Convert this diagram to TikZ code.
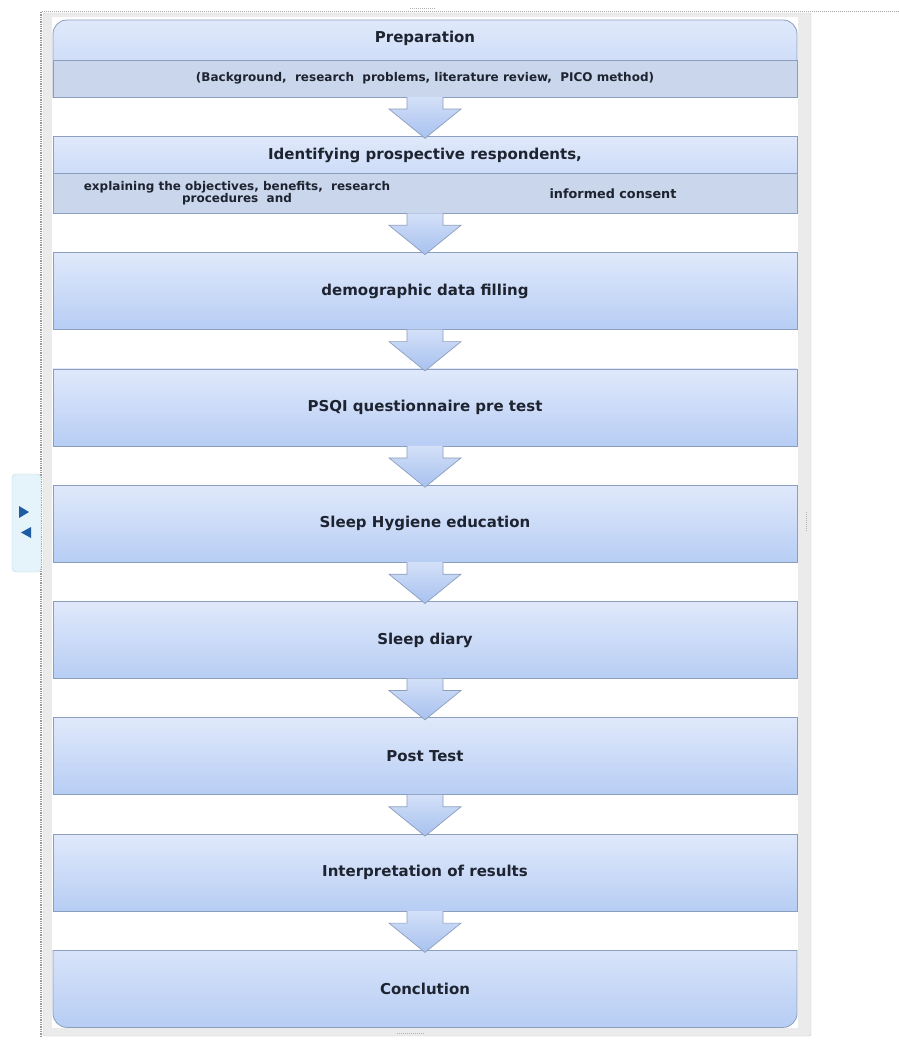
\documentclass[tikz,border=0pt]{standalone}
\usepackage{fontspec}
\setmainfont{DejaVu Sans}
\usetikzlibrary{positioning,calc}
\definecolor{ink}{HTML}{1E2330}
\definecolor{edge}{HTML}{8C9EBD}
\definecolor{boxtop}{HTML}{E0E9FB}
\definecolor{boxbot}{HTML}{B7CDF4}
\definecolor{bandc}{HTML}{C9D6EC}
\definecolor{arrtop}{HTML}{D3E0F8}
\definecolor{arrbot}{HTML}{A7C1EF}
\definecolor{frame}{HTML}{EBEBEB}
\definecolor{frameln}{HTML}{CCCCCC}
\definecolor{tabfill}{HTML}{E5F4FA}
\definecolor{tabln}{HTML}{BCD6E0}
\definecolor{tri}{HTML}{1D5BA3}
\tikzset{
  stagebox/.style={minimum width=744pt,minimum height=77pt,inner sep=0pt,outer sep=0pt},
  stage/.style={stagebox,draw=edge,line width=.8pt,top color=boxtop,bottom color=boxbot,font=\bfseries\fontsize{15}{18}\selectfont,text=ink},
  stageshade/.style={draw=edge,line width=.8pt,top color=boxtop,bottom color=boxbot},
  stagetitle/.style={font=\bfseries\fontsize{15}{18}\selectfont,text=ink,inner sep=0pt},
  subtxt/.style={font=\bfseries\fontsize{12}{12.5}\selectfont,text=ink,align=center,inner sep=0pt},
  band/.style={fill=bandc,draw=edge,line width=.8pt},
  blk/.style={draw=edge,line width=.7pt,top color=arrtop,bottom color=arrbot,line join=miter},
  tab/.style={draw=tabln,fill=tabfill,rounded corners=4pt,minimum width=29pt,minimum height=98pt,inner sep=0pt},
  handle/.style={densely dotted,draw=gray!60,line width=1pt},
}
\begin{document}
\begin{tikzpicture}[x=1pt,y=-1pt,node distance=39.3pt]
  \useasboundingbox (0,0) rectangle (899,1055);
  \fill[white] (0,0) rectangle (899,1055);

  % window frame
  \draw[handle,draw=gray!70] (42,11.5) -- (899,11.5);
  \draw[handle,draw=gray!80,line width=1.3pt] (41,12) -- (41,1036);
  \draw[frameln,fill=frame,rounded corners=2pt] (43,13) rectangle (811,1036);
  \fill[white] (52,17) rectangle (798,1028);
  \node[tab] (tab) at (26.5,523) {};
  \fill[tri] (19,506) -- (29,512) -- (19,518) -- cycle;
  \fill[tri] (31,527) -- (21,532.5) -- (31,538) -- cycle;

  % stages
  \node[stagebox] (prep) at (425,58.5) {};
  \begin{scope}
    \clip ($(prep.north west)+(-2,-2)$) rectangle ($(prep.south east)+(2,0)$);
    \shade[stageshade,rounded corners=14pt] (prep.north west) rectangle ($(prep.south east)+(0,20)$);
  \end{scope}
  \path[band] ($(prep.west)+(0,1.5)$) rectangle (prep.south east);
  \node[stagetitle] (preptitle) at ($(prep.north)+(0,18)$) {Preparation};
  \node[subtxt] (prepsub) at ($(prep.south)+(0,-19)$) {(Background,\ \ research\ \ problems, literature review,\ \ PICO method)};

  \node[stage,below=of prep] (ident) {};
  \path[band] ($(ident.west)+(0,-1.5)$) rectangle (ident.south east);
  \node[stagetitle] (identtitle) at ($(ident.north)+(0,19)$) {Identifying prospective respondents,};
  \node[subtxt] (identsub) at ($(ident.south west)+(184,-20)$) {explaining the objectives, benefits,\ \ research\\procedures\ \ and};
  \node[subtxt,font=\bfseries\fontsize{12.8}{13}\selectfont] (consent) at ($(ident.south west)+(560,-20)$) {informed consent};

  \node[stage,below=of ident] (demo) {demographic data filling};
  \node[stage,below=of demo] (psqi) {PSQI questionnaire pre test};
  \node[stage,below=of psqi] (hyg) {Sleep Hygiene education};
  \node[stage,below=of hyg] (diary) {Sleep diary};
  \node[stage,below=of diary] (post) {Post Test};
  \node[stage,below=of post] (interp) {Interpretation of results};

  \node[stagebox,below=of interp] (concl) {};
  \begin{scope}
    \clip ($(concl.north west)+(-2,0)$) rectangle ($(concl.south east)+(2,2)$);
    \shade[stageshade,rounded corners=14pt] ($(concl.north west)+(0,-20)$) rectangle (concl.south east);
  \end{scope}
  \draw[edge,line width=.8pt] (concl.north west) -- (concl.north east);
  \node[stagetitle] (concltitle) at (concl) {Conclution};

  % block arrows
  \foreach \a/\b in {prep/ident,ident/demo,demo/psqi,psqi/hyg,hyg/diary,diary/post,post/interp,interp/concl}
    \path[blk] ($(\a.south)+(-18,0)$) -- ++(0,12) -- ++(-18,0) -- ($(\b.north)+(0,2)$)
      -- ($(\a.south)+(36,12)$) -- ++(-18,0) -- ($(\a.south)+(18,0)$);

  % handles
  \draw[handle] (410,8) -- (436,8);
  \draw[handle] (397,1033) -- (425,1033);
  \draw[handle] (806,512) -- (806,532);
\end{tikzpicture}
\end{document}
